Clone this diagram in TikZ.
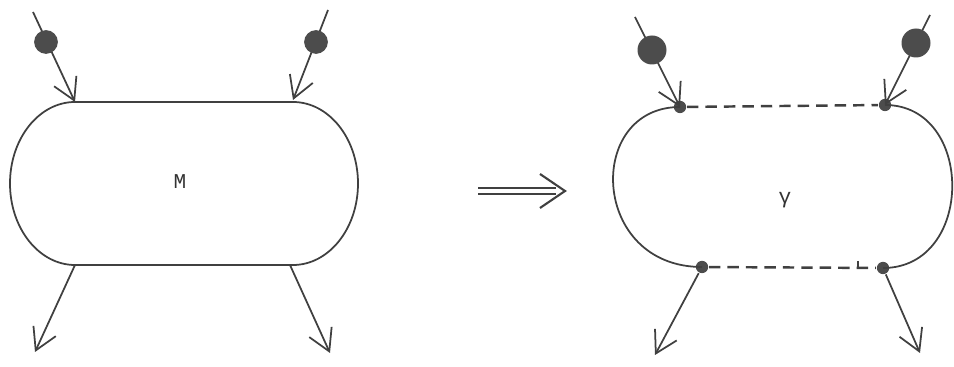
\documentclass[tikz,border=0pt]{standalone}
\usepackage{amssymb,amsmath}
\usepackage{fontspec}
\usepackage{tikz}
\usetikzlibrary{arrows.meta}
\newfontfamily\typefont{Liberation Mono}

\begin{document}
\begin{tikzpicture}[x=0.02cm,y=-0.02cm,line width=1pt,draw=black!75,
        ball/.style={circle,fill=black!70,minimum size=13.5pt,inner sep=0pt},
        bigball/.style={circle,fill=black!70,minimum size=16.5pt,inner sep=0pt},
        dot/.style={circle,fill=black!70,minimum size=7pt,inner sep=0pt},
        leg/.style={-{Straight Barb[angle=60:14pt]}},
        cut/.style={line width=1.4pt,dash pattern=on 6.5pt off 4pt},
        lbl/.style={font=\large\typefont,text=black!80}]
    \useasboundingbox (0,0) rectangle (954,367);

    % Left diagram
    \coordinate (mtl) at (75,102);
    \coordinate (mtr) at (293,102);
    \coordinate (mbl) at (75,265);
    \coordinate (mbr) at (290,265);
    \draw (mtl) -- (mtr) arc[start angle=-90,end angle=90,x radius=65,y radius=81.5]
          -- (mbl) arc[start angle=90,end angle=270,x radius=65,y radius=81.5];
    \node[lbl] (m) at (180,182) {M};

    % Incoming legs
    \coordinate (ms1) at (33,12);
    \coordinate (ms2) at (328,10);
    \coordinate (mt2) at (293,100);
    \draw[leg] (ms1) -- (mtl);
    \draw[leg] (ms2) -- (mt2);
    \node[ball] (mb1) at (46,42) {};
    \node[ball] (mb2) at (316,42) {};

    % Outgoing legs
    \coordinate (mo1) at (35,352);
    \coordinate (mo2) at (330,353);
    \draw[leg] (mbl) -- (mo1);
    \draw[leg] (mbr) -- (mo2);

    % Implication
    \coordinate (i1) at (478,188);
    \coordinate (i2) at (478,194);
    \coordinate (ih) at (565,191);
    \draw[line width=1.2pt] (i1) -- (556,188) (i2) -- (556,194);
    \draw[line width=1.2pt] (540,174) -- (ih) -- (540,208);

    % Right diagram
    \node[dot] (gtl) at (680,107) {};
    \node[dot] (gtr) at (885,105) {};
    \node[dot] (gbl) at (702,267) {};
    \node[dot] (gbr) at (883,268) {};
    \draw (gtl.center) .. controls (585,107) and (590,267) .. (gbl.center);
    \draw (gtr.center) .. controls (975,105) and (975,268) .. (gbr.center);
    \draw[cut] (gtl) -- (gtr);
    \draw[cut] (gbl) -- (gbr);
    \coordinate (tick) at (858,261);
    \draw[line width=1.1pt] (tick) -- (858,268);
    \node[lbl] (g) at (785,200) {γ};

    % Incoming legs
    \coordinate (gs1) at (635,17);
    \coordinate (gs2) at (930,15);
    \draw[leg] (gs1) -- (gtl.center);
    \draw[leg] (gs2) -- (gtr.center);
    \node[bigball] (gb1) at (652,50) {};
    \node[bigball] (gb2) at (916,43) {};

    % Outgoing legs
    \coordinate (go1) at (655,355);
    \coordinate (go2) at (920,353);
    \draw[leg] (gbl) -- (go1);
    \draw[leg] (gbr) -- (go2);
\end{tikzpicture}
\end{document}
